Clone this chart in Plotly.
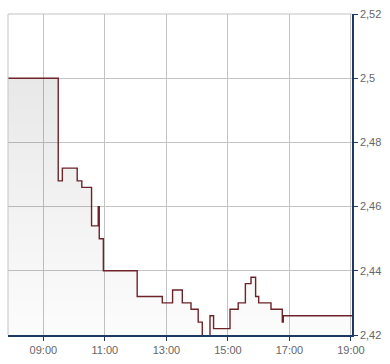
import plotly.graph_objects as go

times = ["07:51", "09:29", "09:37", "10:06", "10:15", "10:34", "10:47", "10:49", "10:57",
         "12:03", "12:52", "13:12", "13:31", "13:48", "14:02", "14:10", "14:25", "14:32",
         "15:04", "15:20", "15:34", "15:45", "15:54", "16:00", "16:24", "16:46", "16:48", "19:02"]
prices = [2.500, 2.468, 2.472, 2.468, 2.466, 2.454, 2.460, 2.450, 2.440,
          2.432, 2.430, 2.434, 2.430, 2.428, 2.424, 2.418, 2.426, 2.422,
          2.428, 2.430, 2.436, 2.438, 2.432, 2.430, 2.428, 2.424, 2.426, 2.426]
y_ticks = [2.42, 2.44, 2.46, 2.48, 2.50, 2.52]

day = "2024-01-15 "
xs = [day + t for t in times]

NAVY = "#1c3a63"
GRID = "#c3c3c3"
LABEL = "#666666"

fig = go.Figure()
fig.add_trace(go.Scatter(
    x=xs, y=prices, mode="lines", line=dict(shape="hv", color="#6e2329", width=1.4),
    fill="tozeroy",
    fillgradient=dict(type="vertical", start=2.42, stop=2.50,
                      colorscale=[[0, "rgba(0,0,0,0.01)"], [1, "rgba(0,0,0,0.09)"]]),
    hoverinfo="skip", showlegend=False,
))

fig.update_layout(
    width=390, height=364, margin=dict(l=8, r=38, t=11, b=26),
    paper_bgcolor="white", plot_bgcolor="white",
    separators=",.",
    font=dict(family="Liberation Sans, Arial, sans-serif", size=11, color=LABEL),
    xaxis=dict(
        type="date", range=[day + "07:51", day + "19:02"],
        tick0=day + "09:00", dtick=2 * 3600 * 1000, tickformat="%H:%M",
        showgrid=True, gridcolor=GRID, gridwidth=1,
        showline=True, linecolor=NAVY, linewidth=1.5,
        ticks="outside", ticklen=4, tickcolor=NAVY, tickwidth=1,
        zeroline=False, fixedrange=True,
    ),
    yaxis=dict(
        side="right", range=[2.42, 2.52], tickvals=y_ticks,
        showgrid=True, gridcolor=GRID, gridwidth=1,
        showline=True, linecolor=NAVY, linewidth=1.5,
        ticks="outside", ticklen=4, tickcolor=NAVY, tickwidth=1,
        zeroline=False, fixedrange=True,
    ),
    shapes=[
        dict(type="line", xref="paper", yref="paper", x0=0, x1=0, y0=0, y1=1,
             line=dict(color=GRID, width=1)),
        dict(type="line", xref="paper", yref="paper", x0=0, x1=1, y0=1, y1=1,
             line=dict(color=GRID, width=1)),
    ],
)

fig.write_html("out.html")
